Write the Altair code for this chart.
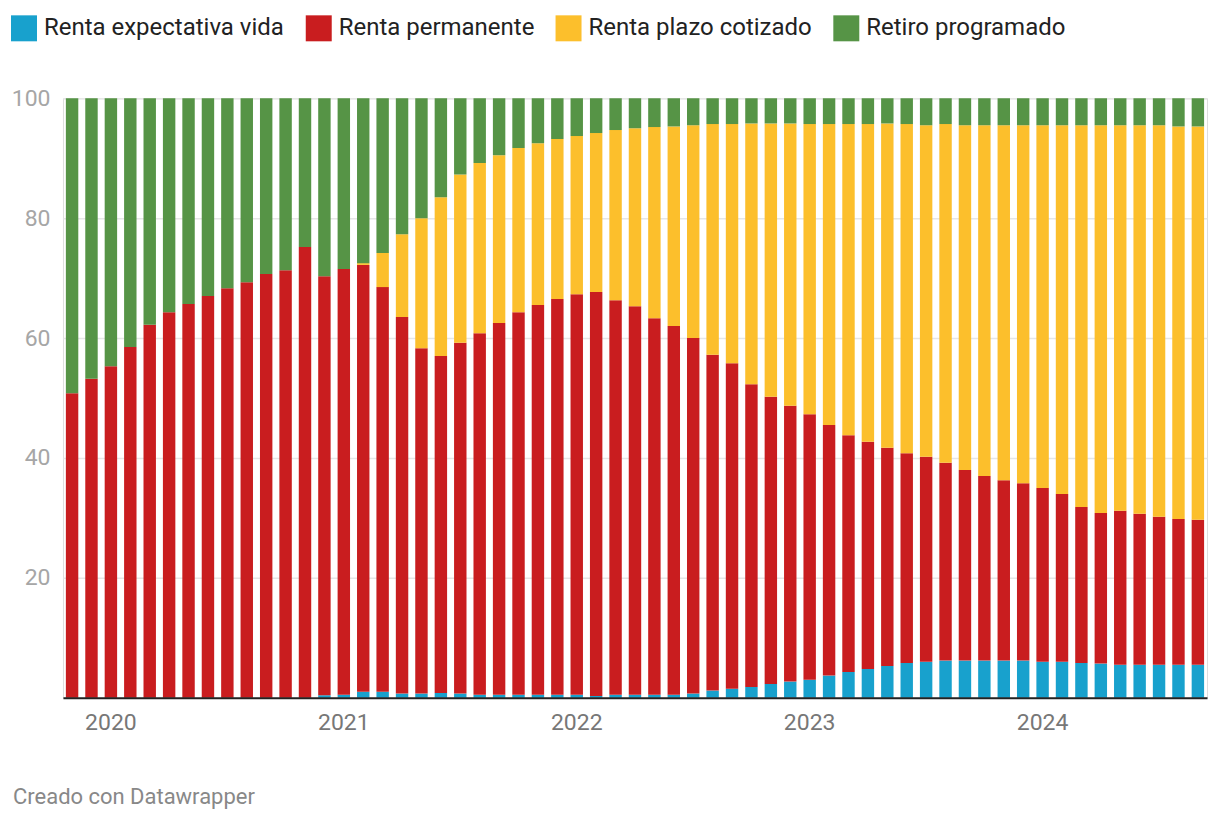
import altair as alt
import pandas as pd

months = [d.strftime("%Y-%m") for d in pd.date_range("2019-11-01", periods=59, freq="MS")]
series = ["Renta expectativa vida", "Renta permanente", "Renta plazo cotizado", "Retiro programado"]
colors = ["#18a1cd", "#c91d1f", "#fcbf2c", "#569446"]

blue = [0, 0, 0, 0, 0, 0, 0, 0, 0, 0, 0, 0, 0,
        0.4, 0.5, 1.0, 1.0, 0.7, 0.7, 0.8, 0.7, 0.5, 0.5, 0.5, 0.5, 0.5, 0.5, 0.3, 0.5,
        0.5, 0.5, 0.5, 0.7, 1.2, 1.5, 1.8, 2.3, 2.7, 3.0, 3.7, 4.3, 4.8, 5.3, 5.8, 6.0,
        6.2, 6.2, 6.2, 6.2, 6.2, 6.0, 6.0, 5.8, 5.7, 5.5, 5.5, 5.5, 5.5, 5.5]
red = [50.8, 53.2, 55.3, 58.5, 62.2, 64.3, 65.7, 67.0, 68.3, 69.3, 70.7, 71.3, 75.2,
       69.9, 71.0, 71.2, 67.5, 62.8, 57.6, 56.2, 58.5, 60.3, 62.0, 63.8, 65.0, 66.0, 66.8,
       67.4, 65.8, 64.8, 62.8, 61.5, 59.3, 56.0, 54.3, 50.5, 47.9, 46.0, 44.3, 41.8, 39.5,
       37.9, 36.4, 35.0, 34.2, 33.0, 31.8, 30.8, 30.1, 29.6, 29.0, 28.0, 26.0, 25.1, 25.7,
       25.2, 24.7, 24.3, 24.2]
yellow = [0, 0, 0, 0, 0, 0, 0, 0, 0, 0, 0, 0, 0,
          0, 0, 0.3, 5.7, 13.8, 21.7, 26.5, 28.1, 28.4, 28.0, 27.4, 27.0, 26.7, 26.4,
          26.5, 28.4, 29.7, 31.9, 33.3, 35.5, 38.5, 39.9, 43.5, 45.6, 47.1, 48.4, 50.2,
          51.9, 53.0, 54.1, 54.9, 55.3, 56.5, 57.5, 58.5, 59.2, 59.7, 60.5, 61.5, 63.7,
          64.7, 64.3, 64.8, 65.3, 65.5, 65.6]
green = [49.2, 46.8, 44.7, 41.5, 37.8, 35.7, 34.3, 33.0, 31.7, 30.7, 29.3, 28.7, 24.8,
         29.7, 28.5, 27.5, 25.8, 22.7, 20.0, 16.5, 12.7, 10.8, 9.5, 8.3, 7.5, 6.8, 6.3,
         5.8, 5.3, 5.0, 4.8, 4.7, 4.5, 4.3, 4.3, 4.2, 4.2, 4.2, 4.3, 4.3, 4.3, 4.3, 4.2,
         4.3, 4.5, 4.3, 4.5, 4.5, 4.5, 4.5, 4.5, 4.5, 4.5, 4.5, 4.5, 4.5, 4.5, 4.7, 4.7]
y_ticks = [20, 40, 60, 80, 100]

rows = []
for i, m in enumerate(months):
    for k, vals in enumerate([blue, red, yellow, green]):
        rows.append({"mes": m, "serie": series[k], "orden": k, "valor": vals[i]})
df = pd.DataFrame(rows)

year_ticks = [m for m in months if m.endswith("-01")]

chart = alt.Chart(df).mark_bar().encode(
    x=alt.X(
        "mes:O", sort=months,
        scale=alt.Scale(paddingInner=0.36, paddingOuter=0.15),
        axis=alt.Axis(values=year_ticks, labelExpr="slice(datum.value, 0, 4)", labelAngle=0,
                      title=None, ticks=False, grid=False, domainColor="#222222", domainWidth=2,
                      labelFont="Roboto", labelFontSize=23, labelColor="#777777",
                      labelPadding=14, zindex=1),
    ),
    y=alt.Y(
        "valor:Q", stack="zero",
        scale=alt.Scale(domain=[0, 100], nice=False),
        axis=alt.Axis(values=y_ticks, title=None, domain=False, ticks=False, grid=True,
                      gridColor="#e6e6e6", gridWidth=1.5, labelFont="Roboto",
                      labelFontSize=23, labelColor="#a6a6a6", labelPadding=13),
    ),
    color=alt.Color(
        "serie:N",
        scale=alt.Scale(domain=series, range=colors),
        legend=alt.Legend(orient="none", legendX=-52, legendY=-83, direction="horizontal",
                          columns=4, title=None, symbolType="square", symbolSize=676,
                          symbolStrokeWidth=0, symbolOpacity=1, labelFont="Roboto",
                          labelFontSize=24, labelColor="#222222", labelOffset=7,
                          columnPadding=21, padding=0, labelLimit=400),
    ),
    order=alt.Order("orden:Q"),
).properties(
    width=1145,
    height=600,
    autosize=alt.AutoSizeParams(type="none"),
    padding={"left": 55, "top": 90, "right": 5, "bottom": 124},
    title=alt.TitleParams("Creado con Datawrapper", orient="bottom", anchor="start",
                          fontSize=22, color="#888888", font="Roboto", fontWeight="normal",
                          dx=2, offset=52),
).configure_view(stroke=None).configure(background="white")

chart.save("out.html", embed_options={"renderer": "svg", "actions": False})
